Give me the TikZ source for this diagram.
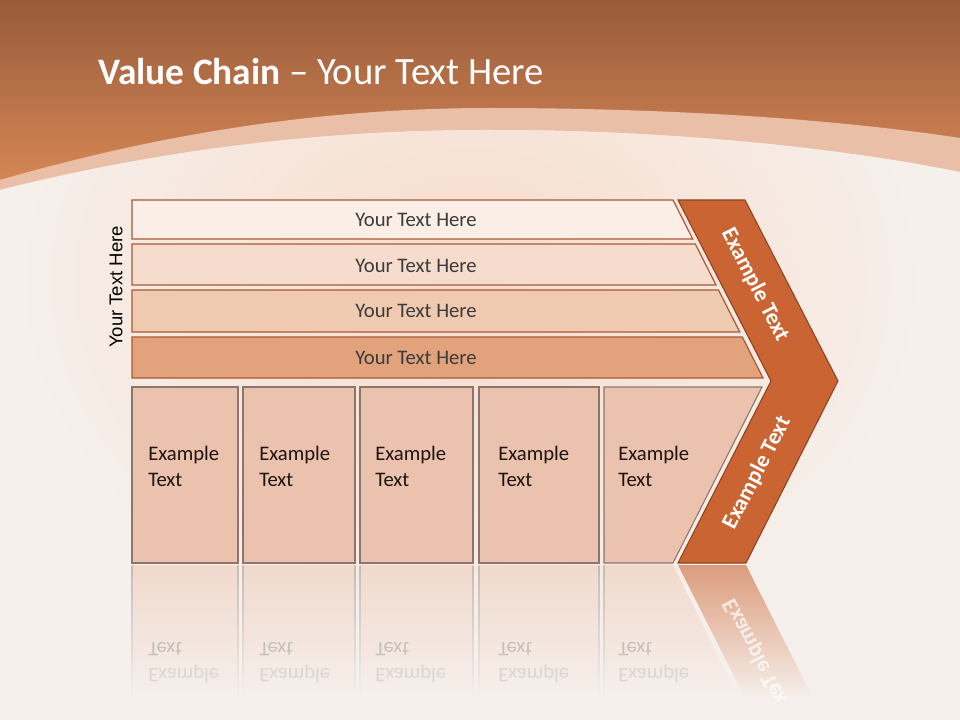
\documentclass[tikz,border=0pt]{standalone}
\usepackage{fontspec}
\setmainfont{Carlito}
\newfontfamily\arialf{Liberation Sans}
\definecolor{topbrown}{HTML}{985B3A}
\definecolor{botorange}{HTML}{DC8B58}
\definecolor{bandc}{HTML}{E9BFA8}
\definecolor{bgc}{HTML}{F6F0EC}
\definecolor{peach}{HTML}{F8DCCB}
\definecolor{rowa}{HTML}{FBEEE7}
\definecolor{rowb}{HTML}{F5DCCD}
\definecolor{rowc}{HTML}{EFC9B0}
\definecolor{rowd}{HTML}{E1A27C}
\definecolor{barline}{HTML}{A65A35}
\definecolor{boxfill}{HTML}{EBC2AD}
\definecolor{boxline}{HTML}{8A766D}
\definecolor{chev}{HTML}{CA6432}
\definecolor{chevline}{HTML}{8C4424}
\definecolor{txt}{HTML}{3B3B3B}
\definecolor{boxtxt}{HTML}{1E1410}
\begin{document}
\begin{tikzpicture}[x=0.75pt,y=-0.75pt,
  bar/.style={draw=barline, line width=0.9pt},
  bartext/.style={text=txt, font=\fontsize{15.5}{18}\selectfont, inner sep=0pt},
  boxshape/.style={draw=boxline, fill=boxfill, line width=0.8pt},
  boxtext/.style={text=boxtxt, font=\fontsize{15.5}{18}\selectfont, inner sep=0pt, anchor=base west},
  reftext/.style={boxtext, yscale=-1},
  chevtext/.style={text=white, font=\bfseries\fontsize{17}{20}\selectfont, inner sep=0pt},
  refshade/.style={top color=boxfill!50!bgc, bottom color=bgc},
  refline/.style={top color=boxline!45!bgc, bottom color=bgc}]
\useasboundingbox (0,0) rectangle (960,720);
% background
\fill[bgc] (0,0) rectangle (960,720);
\shade[top color=topbrown, bottom color=botorange] (0,0) rectangle (960,200);
\fill[bandc] (0,180) .. controls (180,128) and (340,108) .. (490,108) .. controls (660,108) and (830,118) .. (960,138) -- (960,720) -- (0,720) -- cycle;
\begin{scope}
\clip (0,190) .. controls (180,145) and (340,130) .. (490,130) .. controls (660,130) and (830,146) .. (960,172) -- (960,720) -- (0,720) -- cycle;
\fill[bgc] (0,0) rectangle (960,720);
\shade[inner color=peach, outer color=bgc] (470,280) ellipse [x radius=480, y radius=380];
\end{scope}
% title
\node[anchor=base west, text=white, inner sep=0pt] (title) at (98,85) {\fontsize{28}{32}\selectfont\textbf{Value Chain} \fontsize{29}{32}\selectfont– Your Text Here};
% vertical label
\node[rotate=90, inner sep=0pt, font=\arialf\fontsize{13.9}{16}\selectfont] (vt) at (116,287) {Your Text Here};
% bars
\draw[bar, fill=rowa] (132,200) -- (673,200) -- (692.7,239) -- (132,239) -- cycle;
\draw[bar, fill=rowb] (132,244) -- (695.3,244) -- (716,285) -- (132,285) -- cycle;
\draw[bar, fill=rowc] (132,290) -- (718.5,290) -- (739.8,332) -- (132,332) -- cycle;
\draw[bar, fill=rowd] (132,337) -- (742.3,337) -- (763,378) -- (132,378) -- cycle;
\node[bartext] (t1) at (416,219.5) {Your Text Here};
\node[bartext] (t2) at (416,265.5) {Your Text Here};
\node[bartext] (t3) at (416,311) {Your Text Here};
\node[bartext] (t4) at (416,357.5) {Your Text Here};
% reflections
\shade[refshade] (132,565) rectangle (238,700);
\shade[refshade] (243,565) rectangle (355,700);
\shade[refshade] (360,565) rectangle (473,700);
\shade[refshade] (479,565) rectangle (599,700);
\shade[refshade] (604,565) -- (673,565) -- (740,700) -- (604,700) -- cycle;
\foreach \xx in {132,238,243,355,360,473,479,599,604}{
  \shade[refline] (\xx-0.5,565) rectangle (\xx+0.5,700);
}
\begin{scope}
\clip (678,565) -- (746,565) -- (814,700) -- (746,700) -- cycle;
\shade[top color=chev!60!bgc, bottom color=bgc] (678,565) -- (746,565) -- (814,700) -- (746,700) -- cycle;
\node[chevtext, text=white, opacity=0.7, rotate=-62.8, yscale=-1] (c2r) at (757,655) {Example Text};
\end{scope}
\node[reftext, text=boxtxt!22!bgc] (r1b) at (148,642) {Text};
\node[reftext, text=boxtxt!12!bgc] (r1a) at (148,668) {Example};
\node[reftext, text=boxtxt!22!bgc] (r2b) at (259,642) {Text};
\node[reftext, text=boxtxt!12!bgc] (r2a) at (259,668) {Example};
\node[reftext, text=boxtxt!22!bgc] (r3b) at (375,642) {Text};
\node[reftext, text=boxtxt!12!bgc] (r3a) at (375,668) {Example};
\node[reftext, text=boxtxt!22!bgc] (r4b) at (498,642) {Text};
\node[reftext, text=boxtxt!12!bgc] (r4a) at (498,668) {Example};
\node[reftext, text=boxtxt!22!bgc] (r5b) at (618,642) {Text};
\node[reftext, text=boxtxt!12!bgc] (r5a) at (618,668) {Example};
% chevron
\draw[draw=chevline, fill=chev, line width=0.8pt] (678,200) -- (745,200) -- (838,381) -- (746,563) -- (678,563) -- (771,381) -- cycle;
\node[chevtext, rotate=-62.8] (c1) at (755,285) {Example Text};
\node[chevtext, rotate=62.8] (c2) at (757,473) {Example Text};
% boxes
\draw[boxshape] (132,387) rectangle (238,563);
\draw[boxshape] (243,387) rectangle (355,563);
\draw[boxshape] (360,387) rectangle (473,563);
\draw[boxshape] (479,387) rectangle (599,563);
\draw[boxshape] (604,387) -- (762,387) -- (673,563) -- (604,563) -- cycle;
\node[boxtext] (b1a) at (148,460) {Example};
\node[boxtext] (b1b) at (148,486) {Text};
\node[boxtext] (b2a) at (259,460) {Example};
\node[boxtext] (b2b) at (259,486) {Text};
\node[boxtext] (b3a) at (375,460) {Example};
\node[boxtext] (b3b) at (375,486) {Text};
\node[boxtext] (b4a) at (498,460) {Example};
\node[boxtext] (b4b) at (498,486) {Text};
\node[boxtext] (b5a) at (618,460) {Example};
\node[boxtext] (b5b) at (618,486) {Text};
\end{tikzpicture}
\end{document}
